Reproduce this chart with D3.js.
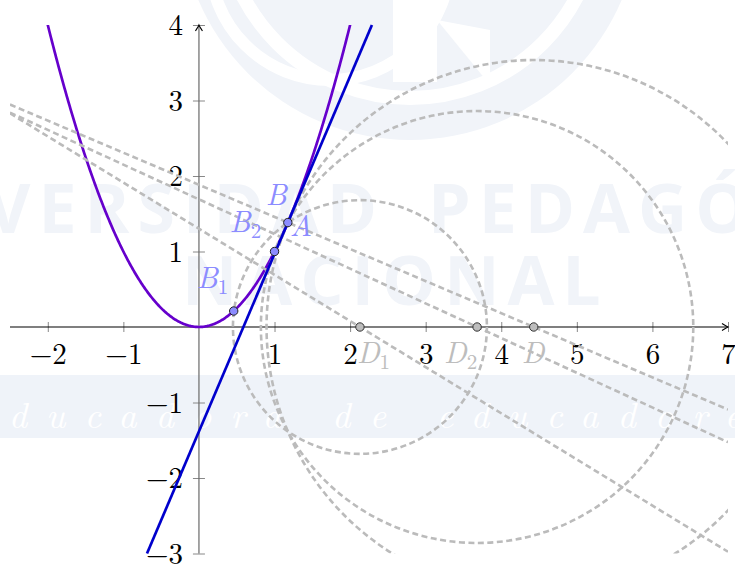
<!DOCTYPE html>
<html>
<head>
<meta charset="utf-8">
<script src="https://cdn.jsdelivr.net/npm/d3@7"></script>
<style>
  html, body { margin: 0; padding: 0; background: #fff; }
  svg { display: block; }
</style>
</head>
<body>
<svg id="chart" width="735" height="564"></svg>
<script>
// Tangent to y = x^2 at A as the limit of circles through A and B_i
const xTicks = [-2, -1, 1, 2, 3, 4, 5, 6, 7];
const yTicks = [-3, -2, -1, 1, 2, 3, 4];

const pointA = 1.176;             // abscissa of A on the parabola
const pointsB = [0.46, 1];        // abscissas of B1, B2
const labelsB = ["1", "2"];
const centersD = [2.13, 3.68, 4.43]; // D1, D2, D on the x-axis
const labelsD = ["1", "2", ""];

const W = 735, H = 564;
const svg = d3.select("#chart");

const x = d3.scaleLinear().domain([-2.5, 7]).range([10, 728]);
const y = d3.scaleLinear().domain([-3, 4]).range([553.5, 25]);
const f = t => t * t;
const intFmt = d3.format("d");
const LM = "'Latin Modern Roman'";

function applyStyles(sel, o) { Object.entries(o).forEach(([k, v]) => sel.style(k, v)); return sel; }

// ---- background letterhead ----
const wm = svg.append("g");
const wmFill = "#f1f4f9";
wm.append("circle").attr("cx", 410).attr("cy", -90).attr("r", 230).attr("fill", wmFill);
wm.append("circle").attr("cx", 410).attr("cy", -90).attr("r", 188)
  .attr("fill", "none").attr("stroke", "#fff").attr("stroke-width", 14);
wm.append("circle").attr("cx", 330).attr("cy", -40).attr("r", 120)
  .attr("fill", "none").attr("stroke", "#fff").attr("stroke-width", 12);
wm.append("rect").attr("x", 393).attr("y", 0).attr("width", 44).attr("height", 82).attr("fill", "#fff");
wm.append("path").attr("d", "M437,20 L490,85 L490,30 Z").attr("fill", "#fff");

const wmText = { "font-family": "'Open Sans'", "font-weight": "700", "font-size": "68px", "letter-spacing": "8px", "fill": wmFill };
applyStyles(wm.append("text"), wmText).attr("x", 385).attr("y", 233).attr("text-anchor", "end").text("UNIVERSIDAD");
applyStyles(wm.append("text"), wmText).attr("x", 428).attr("y", 233).text("PEDAGÓGICA");
applyStyles(wm.append("text"), wmText).attr("x", 182).attr("y", 305).text("NACIONAL");

wm.append("rect").attr("x", 0).attr("y", 375).attr("width", W).attr("height", 63).attr("fill", "#eff3f9");
applyStyles(wm.append("text"), {
  "font-family": LM, "font-style": "italic",
  "font-size": "36px", "letter-spacing": "19px", "fill": "#fff"
}).attr("x", -25).attr("y", 428).text("educadora de educadores");

// ---- clip region of the plot ----
svg.append("clipPath").attr("id", "plotClip").append("rect")
  .attr("x", x(-2.5)).attr("y", y(4))
  .attr("width", x(7) - x(-2.5)).attr("height", y(-3) - y(4));

// ---- axes ----
const defs = svg.append("defs");
defs.append("marker").attr("id", "arr")
  .attr("viewBox", "-8 -5 10 10").attr("refX", 0).attr("refY", 0)
  .attr("markerWidth", 10).attr("markerHeight", 10)
  .attr("markerUnits", "userSpaceOnUse").attr("orient", "auto")
  .append("path").attr("d", "M-6,-3.5 Q-1.5,-0.6 0,0 Q-1.5,0.6 -6,3.5")
  .attr("fill", "none").attr("stroke", "#000").attr("stroke-width", 1.1);

const tickFont = { "font-family": LM, "font-size": "29px", "fill": "#000" };

const gx = svg.append("g").attr("transform", `translate(0,${y(0)})`)
  .call(d3.axisBottom(x).tickValues(xTicks).tickFormat(intFmt).tickSize(0));
gx.select(".domain").remove();
gx.selectAll(".tick line").attr("y1", -5).attr("y2", 5).attr("stroke", "#888").attr("stroke-width", 1);
applyStyles(gx.selectAll(".tick text").attr("y", 37).attr("dy", null), tickFont);

const gy = svg.append("g").attr("transform", `translate(${x(0)},0)`)
  .call(d3.axisLeft(y).tickValues(yTicks).tickFormat(intFmt).tickSize(0));
gy.select(".domain").remove();
gy.selectAll(".tick line").attr("x1", -6).attr("x2", 6).attr("stroke", "#888").attr("stroke-width", 1);
applyStyles(gy.selectAll(".tick text").attr("x", -16).attr("dy", "0.34em"), tickFont);

svg.append("line").attr("x1", x(-2.5)).attr("x2", x(7)).attr("y1", y(0)).attr("y2", y(0))
  .attr("stroke", "#000").attr("stroke-width", 1.1).attr("marker-end", "url(#arr)");
svg.append("line").attr("x1", x(0)).attr("x2", x(0)).attr("y1", y(-3)).attr("y2", y(4))
  .attr("stroke", "#6a6a6a").attr("stroke-width", 1.2).attr("marker-end", "url(#arr)");

const plot = svg.append("g").attr("clip-path", "url(#plotClip)");

// ---- parabola y = x^2 ----
const parab = d3.range(-2.05, 2.051, 0.01).map(t => [t, f(t)]);
plot.append("path").datum(parab)
  .attr("d", d3.line().x(d => x(d[0])).y(d => y(d[1])))
  .attr("fill", "none").attr("stroke", "#6600cc").attr("stroke-width", 2.7);

// ---- tangent at A ----
const slopeA = 2 * pointA;
const tanY = t => f(pointA) + slopeA * (t - pointA);
const tx0 = pointA + (-3 - f(pointA)) / slopeA;
const tx1 = pointA + (4 - f(pointA)) / slopeA;
svg.append("line")
  .attr("x1", x(tx0)).attr("y1", y(tanY(tx0)))
  .attr("x2", x(tx1)).attr("y2", y(tanY(tx1)))
  .attr("stroke", "#0000cc").attr("stroke-width", 2.7);

// ---- circles centred at D_i through A, and the lines through D_i ----
const gray = "#bbbbbb";
const dash = "6,3.5";
const kx = x(1) - x(0), ky = y(0) - y(1);
centersD.forEach(d => {
  const r = Math.hypot(d - pointA, f(pointA));
  plot.append("ellipse").attr("cx", x(d)).attr("cy", y(0))
    .attr("rx", r * kx).attr("ry", r * ky)
    .attr("fill", "none").attr("stroke", gray).attr("stroke-width", 2.6).attr("stroke-dasharray", dash);
});
// perpendicular bisectors of A B_i, and the normal at A
const slopes = pointsB.map(b => -1 / (pointA + b)).concat([-1 / (2 * pointA)]);
centersD.forEach((d, i) => {
  const m = slopes[i];
  const lx0 = -2.5, lx1 = 7;
  plot.append("line")
    .attr("x1", x(lx0)).attr("y1", y(m * (lx0 - d)))
    .attr("x2", x(lx1)).attr("y2", y(m * (lx1 - d)))
    .attr("stroke", gray).attr("stroke-width", 2.6).attr("stroke-dasharray", dash);
});

// ---- points ----
const ptFill = "#8c8cff";
const pts = pointsB.concat([pointA]);
svg.selectAll(".pB").data(pts).enter().append("circle")
  .attr("cx", d => x(d)).attr("cy", d => y(f(d))).attr("r", 4.2)
  .attr("fill", ptFill).attr("stroke", "#222").attr("stroke-width", 1);
svg.selectAll(".pD").data(centersD).enter().append("circle")
  .attr("cx", d => x(d)).attr("cy", y(0)).attr("r", 4.2)
  .attr("fill", "#bdbdbd").attr("stroke", "#333").attr("stroke-width", 1);

// ---- labels ----
const labFont = { "font-family": LM, "font-style": "italic", "font-size": "30px" };
function label(px, py, main, sub, color) {
  const t = applyStyles(svg.append("text"), labFont).attr("x", px).attr("y", py).style("fill", color);
  t.append("tspan").text(main);
  if (sub) t.append("tspan").style("font-size", "21px").style("font-style", "normal").attr("dy", 6).text(sub);
}
const bOffsets = [[-37, -23], [-45, -20]];
pointsB.forEach((b, i) => label(x(b) + bOffsets[i][0], y(f(b)) + bOffsets[i][1], "B", labelsB[i], ptFill));
label(x(pointA) - 22, y(f(pointA)) - 18, "B", "", ptFill);
label(x(pointA) + 2, y(f(pointA)) + 13, "A", "", ptFill);

const dOffsets = [-3, -33, -12];
centersD.forEach((d, i) => label(x(d) + dOffsets[i], y(0) + 36, "D", labelsD[i], "#bdbdbd"));
</script>
</body>
</html>
